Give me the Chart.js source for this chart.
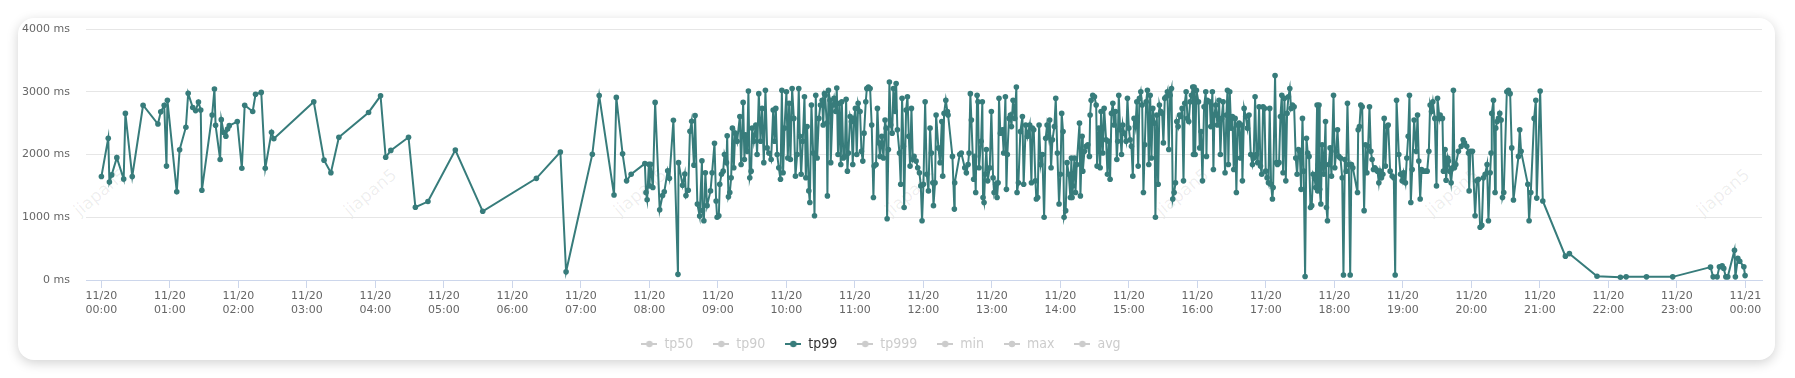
<!DOCTYPE html>
<html>
<head>
<meta charset="utf-8">
<script src="https://cdn.jsdelivr.net/npm/chart.js@4.4.1/dist/chart.umd.min.js"></script>
<style>
  html, body { margin: 0; padding: 0; background: #fff; }
  #wrap { position: relative; width: 1795px; height: 378px; overflow: hidden; }
  #card { position: absolute; left: 18px; top: 18px; width: 1757px; height: 342px; background: #fff;
          border-radius: 16px; box-shadow: 0 3px 12px rgba(0,0,0,0.18); }
  .wm { position: absolute; width: 80px; text-align: center; font: 17px 'DejaVu Sans', sans-serif;
        color: rgba(0,0,0,0.07); transform: rotate(-40deg); white-space: nowrap; }
  #chart { position: absolute; left: 0; top: 0; }
</style>
</head>
<body>
<div id="wrap">
  <div id="card"></div>
  <div id="marks"></div>
  <canvas id="chart" width="1795" height="378"></canvas>
</div>
<script>
// tp99 samples: minutes after 11/20 00:00, value in ms
const minutes = [
  0, 6, 7, 9, 13.5, 19.5, 21, 27, 36.5, 49.5, 52, 55, 57, 57.8, 66, 68.5, 74, 76, 80, 82.5,
  85, 87, 88, 97, 99, 100, 104, 105, 107, 109, 110.5, 112, 119, 123, 125.5, 132.5, 135, 140, 143.5, 149,
  151, 186, 195, 201, 208, 234, 244.5, 249, 253.5, 269, 275, 286, 310, 334, 381, 402, 407, 430, 436, 449,
  451, 456.5, 460, 464, 476, 477, 478, 479.5, 480, 481, 483, 485, 489, 491.5, 493, 496, 497.5, 501, 505, 505.5,
  509, 511, 512, 514, 515.5, 517, 519, 520, 522, 524, 526, 526.5, 527.7, 529, 530.5,
  // 08:53 - 10:33
  533.5, 534.9, 537, 538.4, 539.3, 540.8, 541.6, 543.1, 544.6, 545.7, 547.5, 548.1, 549.2, 550.4, 551.6, 552.7,
  553.9, 555.1, 556.8, 559.2, 560.3, 562.1, 563.2, 564.1, 565.6, 566.7, 567.9, 569.1, 570, 571.4, 573.2, 574.3,
  575.8, 577.3, 578.7, 580.2, 581.6, 583.1, 584.6, 586.6, 588.4, 589.5, 590.7, 591.9, 593.3, 594.8, 596, 597.1,
  598.3, 600, 601.2, 602.4, 603.5, 605, 606.5, 607.9, 609.4, 610.8, 611.7, 612.9, 614.3, 615.8, 617, 618.1,
  619.6, 620.5, 621.9, 623.4, 624.6, 625.7, 626.9, 628.4, 629.8, 631.3, 632.2, 633.3,
  // 10:33 - 12:21
  633.9, 635.3, 635.9, 636.8, 638.2, 638.8, 640.6, 641.7, 643.2, 644.1, 645.2, 646.4, 647.6, 648.5, 649.9, 651.1,
  652.3, 653.4, 654.3, 655.8, 656.9, 658.1, 659.3, 660.4, 661.6, 662.8, 664.5, 665.7, 666.9, 668, 669.5, 670.4,
  671.8, 673.3, 674.7, 676.2, 676.8, 678.5, 679.7, 680.9, 682, 683.5, 685, 686.4, 687.3, 688.2, 689.3, 690.2,
  691.4, 692.6, 693.7, 695.2, 696.1, 697.2, 699, 700.1, 701.3, 702.5, 703.1, 704.8, 706, 707.2, 708.3, 709.5,
  710.7, 711.8, 713.6, 715, 716.5, 717.7, 718.8, 720, 721.5, 722.9, 724.4, 725.8, 727, 728.2, 728.8, 730.2,
  731.1, 733.1, 734.6, 736.1, 736.9, 738.1, 739.6, 741,
  // 12:21 - 14:10
  741.6, 745.4, 747.1, 747.4, 751.8, 753.2, 756.2, 757.6, 759.1, 760, 761.1, 762, 764, 764.9, 765.8, 767,
  767.8, 768.7, 770.5, 771.6, 772.2, 773.1, 774, 775.1, 776.3, 778.1, 779.5, 781, 781.9, 783.3, 784.5, 785.4,
  786.2, 787.4, 789.2, 790.3, 791.8, 792.7, 793.5, 795, 796.2, 797.1, 798.5, 800, 801.4, 802, 803.2, 804.9,
  806.7, 807.8, 809.6, 811.1, 813.1, 814.6, 815.4, 816.6, 818.1, 818.9, 820.1, 821.3, 822.7, 824.2, 825.7, 827.1,
  828.3, 829.7, 830.6, 831.8, 833, 834.7, 835.9, 837.3, 838.8, 840, 841.1, 842.3, 843.2, 844.6, 845.8, 847.3,
  848.7, 849.6,
  // 14:10 - 15:57
  850.2, 850.8, 851.4, 852.3, 853.2, 854.3, 856.7, 857.5, 859, 859.6, 861, 862.5, 864, 865.4, 866, 866.9,
  868.3, 869.8, 871.3, 872.1, 873.6, 874.8, 875.6, 877.1, 878.3, 880, 881.2, 882.4, 883.5, 884.7, 885.9, 887,
  888.2, 889.4, 890.2, 891.1, 892.3, 893.5, 894.6, 895.8, 897.5, 898.7, 899.9, 901, 902.2, 903.4, 904.5, 905.7,
  906.9, 908.1, 909.2, 910.4, 911.6, 912.7, 913.9, 915.1, 916.2, 917.4, 918.6, 919.7, 920.9, 922.4, 923.2, 924.4,
  925.6, 926.7, 927.9, 929.1, 930.2, 931.4, 932.6, 933.7, 934.9, 936.1, 937.3, 938.4, 939.6, 940.8, 941.9, 943.1,
  944.3, 945.4, 946.6, 947.8, 948.9, 950.1, 951.3, 952.4, 953.6, 954.8, 955.9, 956.5,
  // 15:57 - 17:45
  957.1, 958, 959.1, 960.9, 962, 963.2, 964.4, 965.8, 967.3, 967.9, 968.7, 970.8, 971.7, 973.1, 974, 974.9,
  976, 977.5, 979, 980.1, 981.3, 982.5, 984.2, 985.4, 986.3, 987.1, 988.3, 989.5, 990.6, 991.8, 993, 994.1,
  995.3, 996.5, 997.6, 998.8, 999.4, 1000.9, 1002.3, 1003.8, 1005.2, 1006.7, 1008.2, 1009.3, 1010.5, 1011.7, 1012.8, 1014,
  1015.2, 1016.3, 1017.5, 1018.7, 1019.8, 1021, 1022.2, 1023.3, 1024.5, 1025.7, 1026.3, 1028, 1029.2, 1030.1, 1031.5, 1032.7,
  1033.9, 1035, 1036.2, 1037.4, 1038.5, 1039.7, 1040.9, 1042, 1043.2, 1044.7, 1046.1, 1047.3, 1048.5, 1049.6, 1050.8, 1052,
  1053.1, 1054.3, 1055.5, 1056.6, 1057.8, 1059, 1060.1, 1061.3, 1062.5, 1063.6, 1064.8,
  // 17:45 - 19:32
  1065.3, 1065.9, 1066.5, 1067.1, 1068.1, 1069.2, 1070.7, 1072.2, 1073, 1073.9, 1075.1, 1076.2, 1077.4, 1079.2, 1080.3, 1081.5,
  1082.7, 1083.8, 1085.3, 1086.8, 1087.9, 1089.1, 1090.3, 1091.4, 1092.6, 1093.8, 1094.9, 1096.1, 1100.2, 1100.8, 1101.9, 1103.1,
  1104.3, 1106, 1107.2, 1108.4, 1109.5, 1110.7, 1111.9, 1113, 1114.2, 1115.4, 1116.5, 1117.7, 1118.9, 1120, 1121.2, 1122.4,
  1123.6, 1124.7, 1125.9, 1127.1, 1128.8, 1130.6, 1132, 1133.2, 1134.4, 1136.4, 1137.9, 1139.3, 1140.5, 1142.2, 1143.4, 1144.6,
  1145.7, 1146.9, 1148.1, 1149.8, 1151.6, 1152.8, 1153.9, 1155.1, 1156.3, 1157.4, 1159.8, 1161.2, 1162.7, 1163.8, 1165, 1166.2,
  1167.9, 1169.4, 1170.3, 1172,
  // 19:32 - 21:05
  1172.6, 1174.6, 1175.5, 1176.9, 1177.8, 1179.3, 1179.9, 1181, 1182.2, 1183.4, 1184.2, 1185.1, 1186.3, 1188.6, 1191, 1192.7,
  1193.9, 1195.9, 1197.4, 1198, 1199.1, 1200.9, 1203.2, 1204.7, 1206.1, 1207.6, 1209.1, 1210.5, 1212, 1213.7, 1214.9, 1216.4,
  1217.2, 1217.8, 1219.3, 1220.7, 1221.3, 1222.5, 1223.7, 1224.8, 1226, 1227.2, 1228.3, 1231, 1232.4, 1233.9, 1235.3, 1236.8,
  1241.2, 1242.3, 1243.5, 1249.4, 1250.5, 1252, 1254.9, 1256.4, 1257.2, 1260.2, 1262.5,
  // late evening
  1282.3, 1285.8, 1310, 1330.5, 1335.5, 1353.3, 1376.3, 1409.4, 1411.7, 1415.2, 1417.2, 1419.6, 1421, 1422.8, 1424.5, 1430.4,
  1431.2, 1433.3, 1435, 1438.6, 1439.7
];

const tp99 = [
  1650, 2260, 1560, 1675, 1950, 1610, 2655, 1650, 2785, 2485, 2680, 2785, 1815, 2865, 1405, 2075, 2435, 2975, 2750, 2700,
  2835, 2710, 1430, 2630, 3045, 2465, 1920, 2555, 2355, 2290, 2405, 2460, 2525, 1780, 2785, 2685, 2960, 2990, 1780, 2355,
  2250, 2840, 1910, 1710, 2275, 2670, 2935, 1955, 2065, 2275, 1160, 1250, 2070, 1095, 1620, 2040, 130, 2005, 2940, 1355,
  2910, 2010, 1580, 1685, 1855, 1395, 1280, 1845, 1500, 1845, 1475, 2830, 1120, 1345, 1405, 1740, 1620, 2545, 90, 1870,
  1510, 1690, 1345, 1430, 2370, 2530, 1830, 2620, 1210, 1020, 1900, 1105, 945, 1710, 1185,
  1420, 1710, 2180, 1260, 1000, 1025, 1525, 1685, 1735, 2000, 1870, 2300, 1325, 1395, 1630, 2420,
  1790, 2340, 2210, 2605, 1840, 2830, 1920, 2315, 2050, 3010, 1630, 1735, 2420, 2210, 2470, 2000,
  2970, 2210, 2735, 1870, 3025, 2105, 2025, 1920, 2710, 2210, 2735, 2000, 1790, 1605, 3025, 1710,
  2420, 3000, 1945, 2815, 1920, 3050, 2575, 1655, 2000, 3050, 2290, 1685, 2210, 2920, 1630, 2445,
  1420, 1235, 2790, 2025, 1025, 2945, 1945, 2575, 2790, 2865, 2470, 2970,
  2945, 2500, 1340, 3025, 2865, 1870, 2790, 2895, 2685, 3060, 2000, 2815, 1840, 2840, 1945, 1970,
  2880, 1735, 2025, 2605, 2525, 1840, 2575, 2735, 2000, 2815, 2685, 2050, 1895, 2340, 2840, 3050,
  3075, 3050, 2470, 1315, 1815, 1840, 2735, 2185, 1970, 2290, 1945, 2550, 2420, 975, 2080, 3155,
  2470, 2340, 3050, 2685, 3130, 2395, 2025, 1525, 2895, 2130, 1155, 2710, 2920, 2290, 1815, 2735,
  1920, 1970, 1895, 1790, 1710, 1500, 945, 1525, 2840, 1685, 1420, 2420, 2025, 1550, 1185, 1550,
  2630, 2105, 1870, 2525, 1655, 2655, 2865, 2685,
  2630, 1970, 1130, 1550, 2000, 2025, 1790, 1710, 1840, 2025, 2970, 2550, 1605, 1970, 1395, 2945,
  2840, 1790, 2210, 2840, 1315, 1235, 1685, 2080, 1580, 1790, 2685, 1630, 1395, 1525, 1315, 1550,
  2895, 2340, 2395, 2025, 2920, 1445, 2000, 2575, 2630, 2445, 2865, 2575, 3075, 1395, 1550, 2365,
  2605, 1525, 2470, 2290, 2470, 1550, 2420, 2395, 1580, 1290, 1315, 2470, 1840, 2000, 1000, 2260,
  2470, 2290, 2550, 1790, 2235, 2445, 2895, 2025, 1210, 1685, 2655, 2365, 1000, 1105, 1870, 1685,
  1315, 1945,
  1315, 1500, 1685, 1945, 1395, 1840, 2500, 1340, 2290, 1735, 2050, 2130, 2155, 1970, 2630, 2865,
  2945, 2920, 2790, 1815, 2420, 1790, 2685, 2025, 2735, 2235, 1685, 2210, 1605, 2655, 2815, 2470,
  2685, 1920, 2210, 2945, 2395, 2000, 2470, 2340, 2210, 2895, 2420, 2235, 2130, 1655, 2575, 2445,
  2840, 1815, 2895, 3000, 2790, 1395, 2155, 2840, 3025, 1840, 2945, 1945, 2735, 2500, 1000, 2630,
  1525, 2790, 2685, 2655, 2185, 2895, 2920, 3000, 2080, 2945, 3050, 1290, 1395, 1550, 2525, 2445,
  2630, 2605, 2735, 1580, 2815, 3000, 2575, 2525, 2840, 2945, 3075, 2000,
  3075, 2000, 3025, 2840, 2105, 2365, 1580, 2760, 3000, 1970, 2865, 2840, 2445, 3000, 1760, 2630,
  2790, 2470, 2865, 2000, 2575, 2840, 1710, 2630, 3025, 1840, 3000, 2420, 2605, 1760, 2575, 1395,
  2470, 2500, 1945, 2470, 1580, 2735, 2605, 2420, 2630, 2000, 1840, 1945, 2920, 2000, 1870, 2760,
  1815, 1685, 2760, 2735, 1735, 1630, 1550, 2735, 1525, 1290, 1475, 3260, 1870, 1840, 1870, 2605,
  2945, 1710, 2895, 1580, 2655, 2920, 3050, 2735, 2790, 2760, 1945, 1685, 2080, 2050, 1445, 2575,
  1735, 55, 2260, 2025, 1970, 1155, 1185, 1685, 1630, 1475, 2790,
  1420, 1840, 2790, 1445, 1210, 2155, 1685, 2525, 1155, 945, 1840, 2105, 1655, 2945, 1790, 2050,
  2395, 1970, 1945, 1630, 80, 1920, 1735, 2815, 1840, 80, 1840, 1790, 1395, 2395, 2445, 2790,
  2760, 1105, 2155, 1710, 2130, 2760, 2050, 1920, 1760, 1790, 1760, 1735, 1550, 1735, 1630, 1685,
  2575, 1815, 2445, 2470, 1735, 1655, 1630, 80, 2865, 2000, 1685, 1580, 1710, 1550, 1945, 2290,
  2945, 1235, 1760, 2550, 2050, 2630, 1895, 1290, 1760, 1735, 1735, 1735, 2050, 2790, 2685, 2840,
  2575, 1500, 2895, 2575,
  2630, 2575, 1735, 2080, 1590, 1945, 1895, 1735, 1550, 1790, 3025, 1790, 1840, 2050, 2130, 2235,
  2185, 2130, 2025, 1420, 2050, 2050, 1025, 1580, 1605, 840, 870, 1630, 1685, 1840, 945, 1710,
  2025, 2655, 2865, 1395, 2420, 2525, 2575, 2655, 2550, 1315, 1395, 3000, 3025, 2970, 2105, 1275,
  1970, 2395, 2050, 1525, 945, 1395, 2575, 2865, 1305, 3010, 1260,
  380, 420, 60, 45, 50, 50, 50, 205, 50, 50, 210, 225, 185, 50, 50, 475,
  50, 345, 300, 210, 70
];

const seriesNames = ['tp50', 'tp90', 'tp99', 'tp999', 'min', 'max', 'avg'];
const activeSeries = 'tp99';
const hourTicks = [0, 60, 120, 180, 240, 300, 360, 420, 480, 540, 600, 660, 720, 780, 840, 900,
                   960, 1020, 1080, 1140, 1200, 1260, 1320, 1380, 1440];
const tickLabels = [
  ['11/20', '00:00'], ['11/20', '01:00'], ['11/20', '02:00'], ['11/20', '03:00'], ['11/20', '04:00'],
  ['11/20', '05:00'], ['11/20', '06:00'], ['11/20', '07:00'], ['11/20', '08:00'], ['11/20', '09:00'],
  ['11/20', '10:00'], ['11/20', '11:00'], ['11/20', '12:00'], ['11/20', '13:00'], ['11/20', '14:00'],
  ['11/20', '15:00'], ['11/20', '16:00'], ['11/20', '17:00'], ['11/20', '18:00'], ['11/20', '19:00'],
  ['11/20', '20:00'], ['11/20', '21:00'], ['11/20', '22:00'], ['11/20', '23:00'], ['11/21', '00:00']
];
const watermark = 'jiapan5';

const teal = '#377c7b';
const grey = '#cccccc';

// faint watermark text behind the plot
const marks = document.getElementById('marks');
[100, 370, 640, 911, 1182, 1452, 1723].forEach(cx => {
  const s = document.createElement('div');
  s.className = 'wm';
  s.textContent = watermark;
  s.style.left = (cx - 40) + 'px';
  s.style.top = '182px';
  marks.appendChild(s);
});

// legend marker: short line with a dot
function legendIcon(color) {
  const c = document.createElement('canvas');
  c.width = 16; c.height = 8;
  const g = c.getContext('2d');
  g.strokeStyle = color; g.lineWidth = 2;
  g.beginPath(); g.moveTo(0, 4); g.lineTo(16, 4); g.stroke();
  g.fillStyle = color;
  g.beginPath(); g.arc(8, 4, 3.2, 0, Math.PI * 2); g.fill();
  return c;
}

const datasets = seriesNames.map(name => {
  const on = name === activeSeries;
  return {
    label: name,
    data: on ? minutes.map((m, i) => ({ x: m, y: tp99[i] })) : [],
    borderColor: on ? teal : grey,
    backgroundColor: on ? teal : grey,
    borderWidth: 2,
    pointRadius: 2.8,
    pointBorderWidth: 0,
    pointBackgroundColor: on ? teal : grey,
    tension: 0
  };
});

new Chart(document.getElementById('chart'), {
  type: 'line',
  data: { datasets },
  options: {
    responsive: false,
    animation: false,
    layout: { padding: { top: 29, right: 33, left: 0, bottom: 17 } },
    plugins: {
      tooltip: { enabled: false },
      legend: {
        position: 'bottom',
        labels: {
          usePointStyle: true,
          pointStyleWidth: 16,
          padding: 20,
          font: { family: "'Liberation Sans Narrow', 'DejaVu Sans Condensed', sans-serif", size: 14 },
          generateLabels: chart => chart.data.datasets.map((ds, i) => ({
            text: ds.label,
            datasetIndex: i,
            hidden: false,
            fontColor: ds.label === activeSeries ? '#333333' : grey,
            pointStyle: legendIcon(ds.label === activeSeries ? teal : grey),
            lineWidth: 0
          }))
        }
      }
    },
    scales: {
      x: {
        type: 'linear',
        min: -13.5,
        max: 1454.5,
        afterBuildTicks: scale => { scale.ticks = hourTicks.map(v => ({ value: v })); },
        afterFit: scale => { scale.height = 37; },
        ticks: {
          autoSkip: false,
          maxRotation: 0,
          padding: 2,
          color: '#666666',
          font: { family: 'DejaVu Sans', size: 11 },
          callback: v => tickLabels[hourTicks.indexOf(v)]
        },
        grid: { drawOnChartArea: false, drawTicks: true, tickLength: 8, color: '#ccd6eb' },
        border: { color: '#ccd6eb', width: 1 }
      },
      y: {
        min: 0,
        max: 4000,
        afterFit: scale => { scale.width = 86; },
        ticks: {
          stepSize: 1000,
          padding: 16,
          color: '#666666',
          font: { family: 'DejaVu Sans', size: 11 },
          callback: v => v + ' ms'
        },
        grid: { color: '#e6e6e6', drawTicks: false },
        border: { display: false }
      }
    }
  }
});
</script>
</body>
</html>
